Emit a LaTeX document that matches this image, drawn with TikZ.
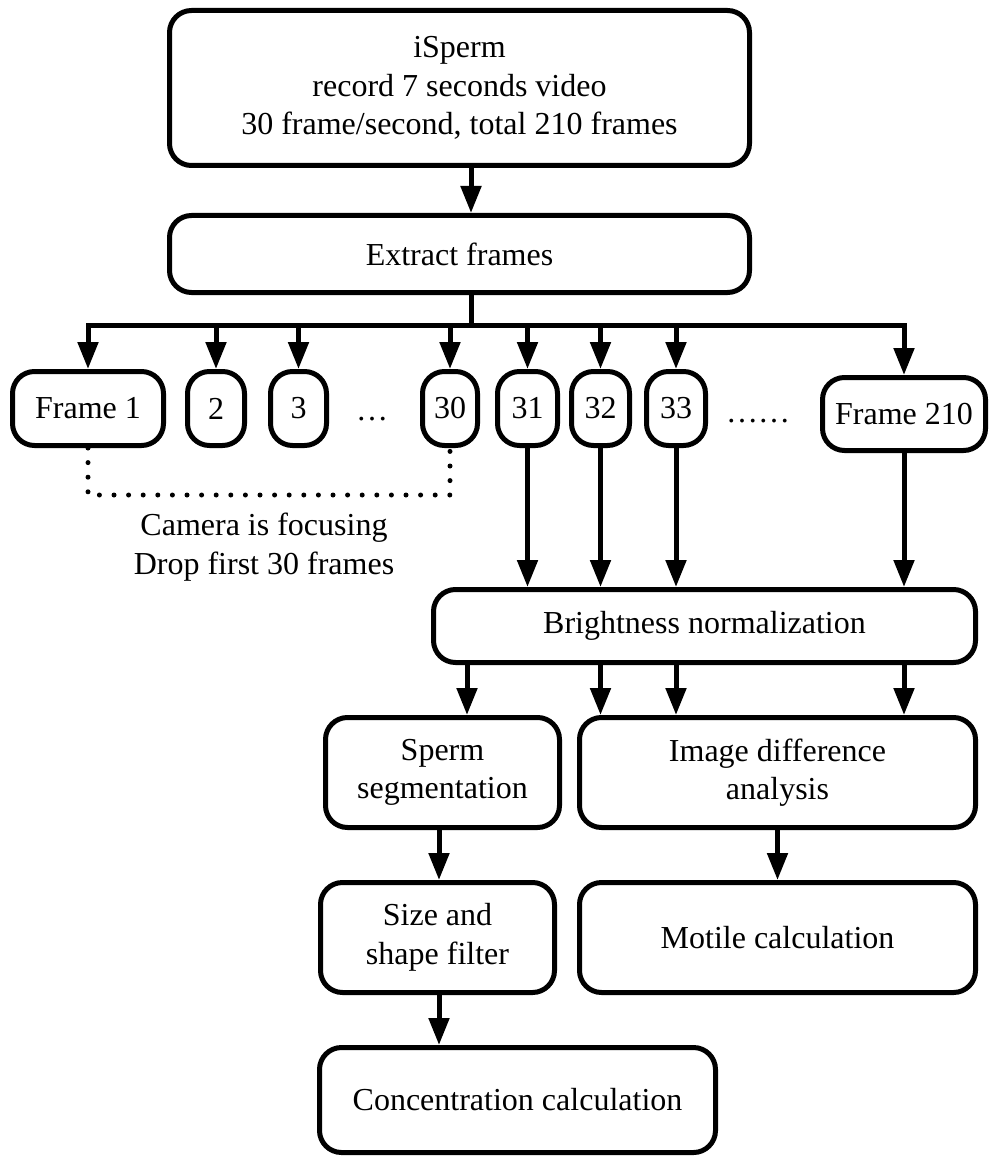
\documentclass[tikz,border=0pt]{standalone}
\usepackage{fontspec}
\setmainfont{Liberation Serif}
\usetikzlibrary{arrows.meta}
\tikzset{
  box/.style={draw, line width=5pt, rounded corners=22pt, inner sep=0pt, align=center,
    font=\fontsize{32pt}{38.5pt}\selectfont},
  lbl/.style={inner sep=0pt, align=center, font=\fontsize{32pt}{38.5pt}\selectfont},
  ln/.style={line width=5pt},
  arr/.style={line width=5pt, -{Triangle[length=27pt,width=20pt]}},
  dotline/.style={line width=5pt, line cap=round, dash pattern=on 0pt off 14.6pt},
}
\begin{document}
\begin{tikzpicture}[x=1pt,y=-1pt]
\useasboundingbox (0,0) rectangle (990,1158);
% boxes
\node[box, minimum width=580pt, minimum height=155pt] (top) at (459.5,88)
  {iSperm\\record 7 seconds video\\30 frame/second, total 210 frames};
\node[box, minimum width=580pt, minimum height=77pt] (extract) at (459.5,254) {Extract frames};
\node[box, minimum width=151pt, minimum height=74pt] (f1) at (88,408.5) {Frame 1};
\node[box, minimum width=57pt, minimum height=74pt] (f2) at (216,408.5) {2};
\node[box, minimum width=56pt, minimum height=74pt] (f3) at (298.5,408.5) {3};
\node[lbl, anchor=base] (dots1) at (372,420) {…};
\node[box, minimum width=55pt, minimum height=74pt] (f30) at (450,408.5) {30};
\node[box, minimum width=60pt, minimum height=74pt] (f31) at (527.5,408.5) {31};
\node[box, minimum width=58pt, minimum height=74pt] (f32) at (600.5,408.5) {32};
\node[box, minimum width=59pt, minimum height=74pt] (f33) at (676,408.5) {33};
\node[lbl, anchor=base] (dots2) at (758,422) {……};
\node[box, minimum width=163pt, minimum height=73pt] (f210) at (904,414) {Frame 210};
\node[lbl] (cam) at (264,547) {Camera is focusing\\Drop first 30 frames};
\node[box, minimum width=542pt, minimum height=73pt] (bright) at (704.5,626) {Brightness normalization};
\node[box, minimum width=234pt, minimum height=110pt] (sperm) at (442.5,772.5) {Sperm\\segmentation};
\node[box, minimum width=396pt, minimum height=110pt] (imgdiff) at (777.5,772.5) {Image difference\\analysis};
\node[box, minimum width=234pt, minimum height=110pt] (size) at (437.5,937.5) {Size and\\shape filter};
\node[box, minimum width=396pt, minimum height=110pt] (motile) at (777.5,937.5) {Motile calculation};
\node[box, minimum width=396pt, minimum height=105pt] (conc) at (517.5,1100) {Concentration calculation};
% helper coordinates
\coordinate (br) at (471,325);
\coordinate (dl) at (86,495);
\coordinate (sx) at (467,700);
\coordinate (sz) at (439,855);
% connectors
\draw[arr] (top.south -| br) -- (extract.north -| br);
\draw[ln] (extract.south -| br) -- (br);
\draw[line width=5pt, line join=miter, {Triangle[length=27pt,width=20pt]}-{Triangle[length=27pt,width=20pt]}]
  (f1.north) -- (f1.north |- br) -- (f210.north |- br) -- (f210.north);
\foreach \n in {f2,f3,f30,f31,f32,f33}{
  \draw[arr] (\n.north |- br) -- (\n.north);
}
\draw[dotline] (f1.south) -- (f1.south |- dl) -- (f30.south |- dl) -- (f30.south);
\foreach \n in {f31,f32,f33,f210}{
  \draw[arr] (\n.south) -- (\n.south |- bright.north);
}
\draw[arr] (bright.south -| sx) -- (sperm.north -| sx);
\foreach \n in {f32,f33,f210}{
  \draw[arr] (\n.south |- bright.south) -- (\n.south |- imgdiff.north);
}
\draw[arr] (sperm.south -| sz) -- (size.north -| sz);
\draw[arr] (size.south -| sz) -- (conc.north -| sz);
\draw[arr] (imgdiff.south) -- (motile.north);
\end{tikzpicture}
\end{document}
